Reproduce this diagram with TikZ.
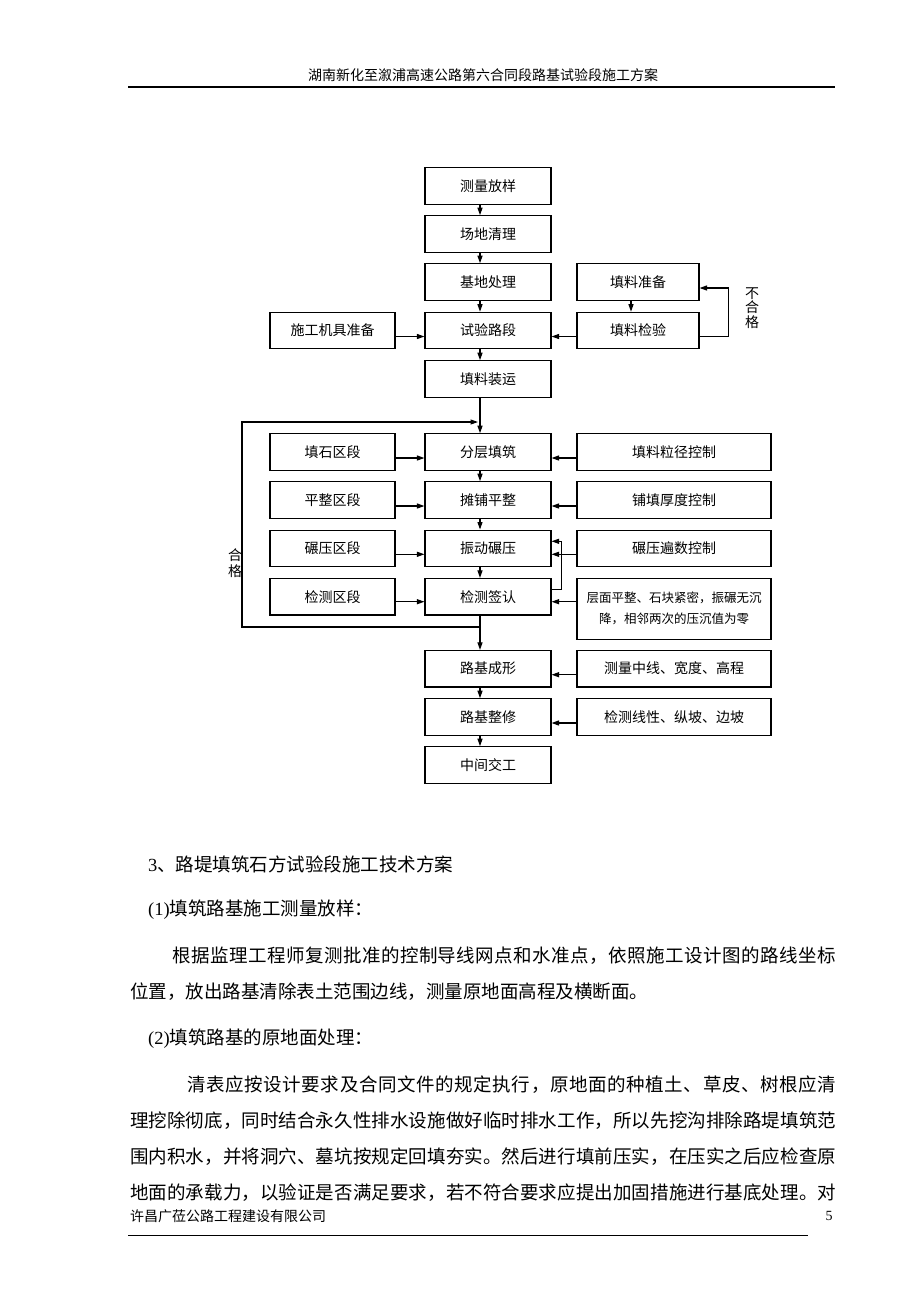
\documentclass[tikz,border=0pt]{standalone}
\usepackage{fontspec}
\setmainfont{Liberation Serif}
\newfontfamily\cjk{Noto Sans CJK SC}
\usetikzlibrary{arrows.meta,calc}
\makeatletter
\def\spr#1{\spr@a#1\spr@end}
\def\spr@end{\spr@end}
\def\spr@a#1{\ifx#1\spr@end\else#1\hfil\expandafter\spr@a\fi}
\newcommand\jline[2]{\hbox to #1pt{\spr{#2}\unskip}}
\makeatother
\begin{document}
\begin{tikzpicture}[x=1pt,y=-1pt,
 box/.style={draw,line width=1.1pt,inner sep=0pt,minimum height=36.5pt,font=\cjk\fontsize{14}{16}\selectfont},
 mbox/.style={box,minimum width=126pt},
 lbox/.style={box,minimum width=125pt},
 sbox/.style={box,minimum width=122pt},
 wbox/.style={box,minimum width=194pt},
 arr/.style={line width=1.1pt,-{Triangle[length=7.5pt,width=5pt]}},
 ln/.style={line width=1.1pt},
 body/.style={anchor=west,inner sep=0pt,font=\cjk\fontsize{18.5}{20}\selectfont},
 small/.style={inner sep=0pt,font=\cjk\fontsize{14}{14.5}\selectfont}]
\useasboundingbox[fill=white] (0,0) rectangle (920,1302);
% header
\node[small] (hd) at (483,75) {湖南新化至溆浦高速公路第六合同段路基试验段施工方案};
\draw[line width=1.8pt] (128,87) coordinate (hl1) -- (835,87) coordinate (hl2);
% axes
\coordinate (ax) at (480,0);
\coordinate (rx) at (631,0);
% main column
\node[mbox] (m1) at (488,186) {测量放样};
\node[mbox] (m2) at (488,234) {场地清理};
\node[mbox] (m3) at (488,282) {基地处理};
\node[mbox] (m4) at (488,330.5) {试验路段};
\node[mbox] (m5) at (488,379) {填料装运};
\node[mbox] (m6) at (488,452) {分层填筑};
\node[mbox] (m7) at (488,500) {摊铺平整};
\node[mbox] (m8) at (488,548.3) {振动碾压};
\node[mbox] (m9) at (488,596.7) {检测签认};
\node[mbox] (m10) at (488,668.7) {路基成形};
\node[mbox] (m11) at (488,717) {路基整修};
\node[mbox] (m12) at (488,765) {中间交工};
% left column
\node[lbox] (p1) at (332.5,330.5) {施工机具准备};
\node[lbox] (l1) at (332.5,452) {填石区段};
\node[lbox] (l2) at (332.5,500) {平整区段};
\node[lbox] (l3) at (332.5,548.3) {碾压区段};
\node[lbox] (l4) at (332.5,596.7) {检测区段};
% right column
\node[sbox] (r1) at (638,282) {填料准备};
\node[sbox] (r2) at (638,330.5) {填料检验};
\node[wbox] (w1) at (674,452) {填料粒径控制};
\node[wbox] (w2) at (674,500) {铺填厚度控制};
\node[wbox] (w3) at (674,548.3) {碾压遍数控制};
\node[wbox,minimum height=60.7pt,align=center,font=\cjk\fontsize{12.5}{21}\selectfont] (w4) at (674,608.7) {层面平整、石块紧密，振碾无沉\\降，相邻两次的压沉值为零};
\node[wbox] (w5) at (674,668.7) {测量中线、宽度、高程};
\node[wbox] (w6) at (674,717) {检测线性、纵坡、边坡};
% vertical arrows
\draw[arr] (m1.south -| ax) -- (m2.north -| ax);
\draw[arr] (m2.south -| ax) -- (m3.north -| ax);
\draw[arr] (m3.south -| ax) -- (m4.north -| ax);
\draw[arr] (m4.south -| ax) -- (m5.north -| ax);
\draw[arr] (m5.south -| ax) -- (m6.north -| ax);
\draw[arr] (m6.south -| ax) -- (m7.north -| ax);
\draw[arr] (m7.south -| ax) -- (m8.north -| ax);
\draw[arr] (m8.south -| ax) -- (m9.north -| ax);
\draw[arr] (m9.south -| ax) -- (m10.north -| ax);
\draw[arr] (m10.south -| ax) -- (m11.north -| ax);
\draw[arr] (m11.south -| ax) -- (m12.north -| ax);
\draw[arr] (r1.south -| rx) -- (r2.north -| rx);
% side arrows
\draw[arr] ($(p1.east)+(0,6)$) -- ($(m4.west)+(0,6)$);
\draw[arr] ($(r2.west)+(0,6)$) -- ($(m4.east)+(0,6)$);
\draw[arr] ($(r2.east)+(0,6)$) -- ++(29,0) |- ($(r1.east)+(0,6)$);
\node[small,align=center] (bhg) at (752,308) {不\\合\\格};
\draw[arr] ($(l1.east)+(0,6)$) -- ($(m6.west)+(0,6)$);
\draw[arr] ($(l2.east)+(0,6)$) -- ($(m7.west)+(0,6)$);
\draw[arr] ($(l3.east)+(0,6)$) -- ($(m8.west)+(0,6)$);
\draw[arr] ($(l4.east)+(0,5)$) -- ($(m9.west)+(0,5)$);
\draw[arr] ($(w1.west)+(0,6)$) -- ($(m6.east)+(0,6)$);
\draw[arr] ($(w2.west)+(0,6)$) -- ($(m7.east)+(0,6)$);
\draw[arr] ($(w3.west)+(0,6)$) -- ($(m8.east)+(0,6)$);
\coordinate (a4) at ($(m9.east)+(0,5)$);
\draw[arr] (a4 -| w4.west) -- (a4);
\draw[arr] ($(m9.east)+(0,-7)$) -- ++(10,0) |- ($(m8.east)+(0,-7)$);
\draw[arr] ($(w5.west)+(0,6)$) -- ($(m10.east)+(0,6)$);
\draw[arr] ($(w6.west)+(0,6)$) -- ($(m11.east)+(0,6)$);
% big loop
\coordinate (jt) at (478,422);
\coordinate (jb) at (480,627);
\coordinate (lp) at (242,0);
\draw[arr] (jb) -- (jb -| lp) -- (jt -| lp) -- (jt);
\node[small,align=center,font=\cjk\fontsize{14}{16.5}\selectfont] (hg) at (235,563) {合\\格};
% body text
\node[body] (t1) at (148,864) {{\rmfamily 3}、路堤填筑石方试验段施工技术方案};
\node[body] (t2) at (148,910) {{\rmfamily (1)}填筑路基施工测量放样：};
\node[body] (t3) at (172,956) {\jline{664}{根据监理工程师复测批准的控制导线网点和水准点，依照施工设计图的路线坐标}};
\node[body] (t4) at (130,992) {位置，放出路基清除表土范围边线，测量原地面高程及横断面。};
\node[body] (t5) at (148,1039) {{\rmfamily (2)}填筑路基的原地面处理：};
\node[body] (t6) at (187,1085) {\jline{649}{清表应按设计要求及合同文件的规定执行，原地面的种植土、草皮、树根应清}};
\node[body] (t7) at (130,1121) {\jline{706}{理挖除彻底，同时结合永久性排水设施做好临时排水工作，所以先挖沟排除路堤填筑范}};
\node[body] (t8) at (130,1157) {\jline{706}{围内积水，并将洞穴、墓坑按规定回填夯实。然后进行填前压实，在压实之后应检查原}};
\node[body] (t9) at (130,1193) {\jline{706}{地面的承载力，以验证是否满足要求，若不符合要求应提出加固措施进行基底处理。对}};
% footer
\node[small,anchor=west] (ft) at (130,1216) {许昌广莅公路工程建设有限公司};
\node[small,font=\rmfamily\fontsize{14}{16}\selectfont] (pg) at (829,1216) {5};
\draw[line width=1pt] (128,1235) coordinate (fl1) -- (808,1235) coordinate (fl2);
\end{tikzpicture}
\end{document}
